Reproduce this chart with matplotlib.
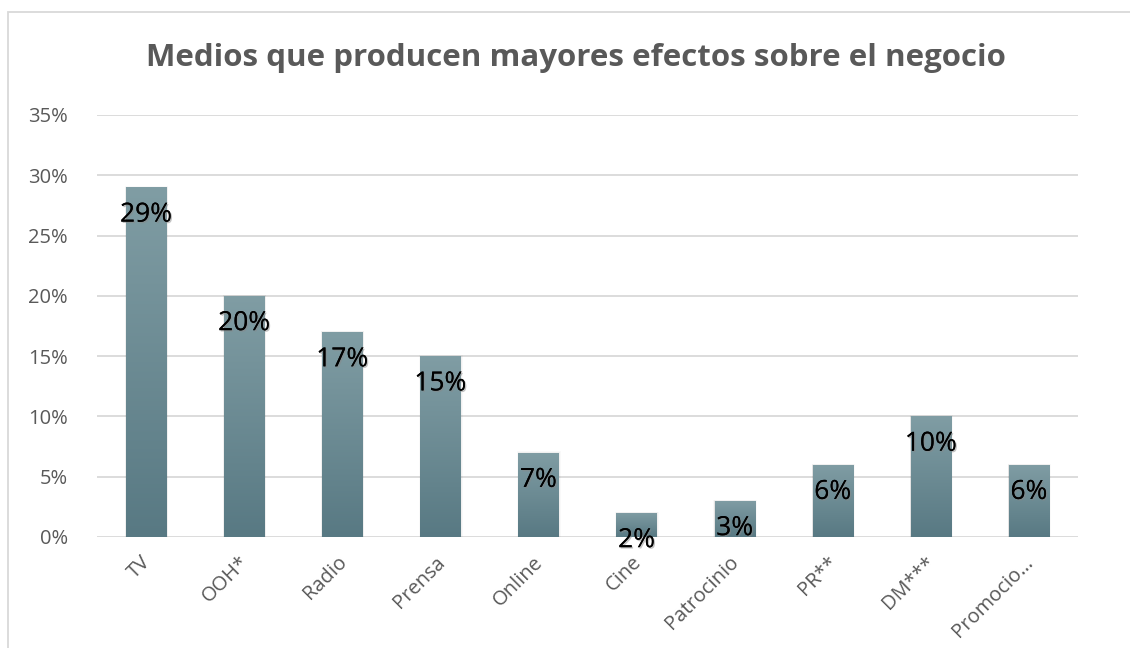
import numpy as np
import matplotlib
matplotlib.use("Agg")
import matplotlib.pyplot as plt
from matplotlib.patches import Rectangle
from matplotlib.ticker import FuncFormatter, MultipleLocator
from matplotlib.transforms import ScaledTranslation
import matplotlib.patheffects as pe

categories = ["TV", "OOH*", "Radio", "Prensa", "Online", "Cine",
              "Patrocinio", "PR**", "DM***", "Promocio…"]
values = [29, 20, 17, 15, 7, 2, 3, 6, 10, 6]

plt.rcParams["font.family"] = ["Open Sans", "DejaVu Sans"]

W, H = 1130, 648
fig = plt.figure(figsize=(W / 100, H / 100), dpi=100)
fig.patch.set_facecolor("white")

# outer chart frame
fig.add_artist(Rectangle((8 / W, -0.1), 1.2, 1 - 12 / H + 0.1,
                         transform=fig.transFigure, fill=False,
                         edgecolor="#d9d9d9", linewidth=1.3))

ax = fig.add_axes([97 / W, 1 - 537 / H, (1078 - 97) / W, (537 - 115) / H])
ax.set_xlim(-0.5, len(categories) - 0.5)
ax.set_ylim(0, 35)
ax.yaxis.set_major_locator(MultipleLocator(5))
ax.yaxis.set_major_formatter(FuncFormatter(lambda v, p: f"{v:.0f}%"))
ax.grid(axis="y", color="#d9d9d9", linewidth=1.3)
ax.set_axisbelow(True)
for s in ax.spines.values():
    s.set_visible(False)
ax.tick_params(axis="both", length=0, labelsize=14.5, labelcolor="#595959")
ax.tick_params(axis="y", pad=21)

x = np.arange(len(categories))
ax.set_xticks(x)
ax.set_xticklabels(categories, rotation=45, ha="right", rotation_mode="anchor")
ax.tick_params(axis="x", pad=11)
shift = ScaledTranslation(-4 / 72, 0, fig.dpi_scale_trans)
for lbl in ax.get_xticklabels():
    lbl.set_transform(lbl.get_transform() + shift)

width = 0.41
grad = np.linspace(0, 1, 256).reshape(-1, 1)
top_c = np.array([0x80, 0x9d, 0xa4]) / 255
bot_c = np.array([0x58, 0x79, 0x83]) / 255
img = bot_c[None, None, :] * (1 - grad[..., None]) + top_c[None, None, :] * grad[..., None]
img = img.reshape(256, 1, 3)

bars = ax.bar(x, values, width=width, color="none", zorder=3)
for b, v in zip(bars, values):
    x0 = b.get_x()
    # soft drop shadow
    for k, a in enumerate([0.05, 0.035, 0.025]):
        d = 0.012 * (k + 1)
        sh = Rectangle((x0 - d * 0.3, -0.15), b.get_width() + d * 0.9,
                       v + 0.1 + d * 4, facecolor="black", alpha=a,
                       edgecolor="none", zorder=2)
        ax.add_patch(sh)
    im = ax.imshow(img, extent=(x0, x0 + b.get_width(), 0, v), origin="lower",
                   aspect="auto", zorder=3)
    clip = Rectangle((x0, 0), b.get_width(), v, transform=ax.transData)
    im.set_clip_path(clip)

for xi, v in zip(x, values):
    ax.annotate(f"{v}%", (xi, v), xytext=(0, -20), textcoords="offset points",
                ha="center", va="center", fontsize=19, color="black", zorder=5,
                path_effects=[pe.withSimplePatchShadow(offset=(1, -1), shadow_rgbFace="#888888", alpha=0.5),
                              pe.Normal()])

fig.text(576 / W, 1 - 58 / H, "Medios que producen mayores efectos sobre el negocio",
         ha="center", va="center", fontsize=22.5, fontweight="bold", color="#595959")

fig.savefig("out.png", dpi=100)
